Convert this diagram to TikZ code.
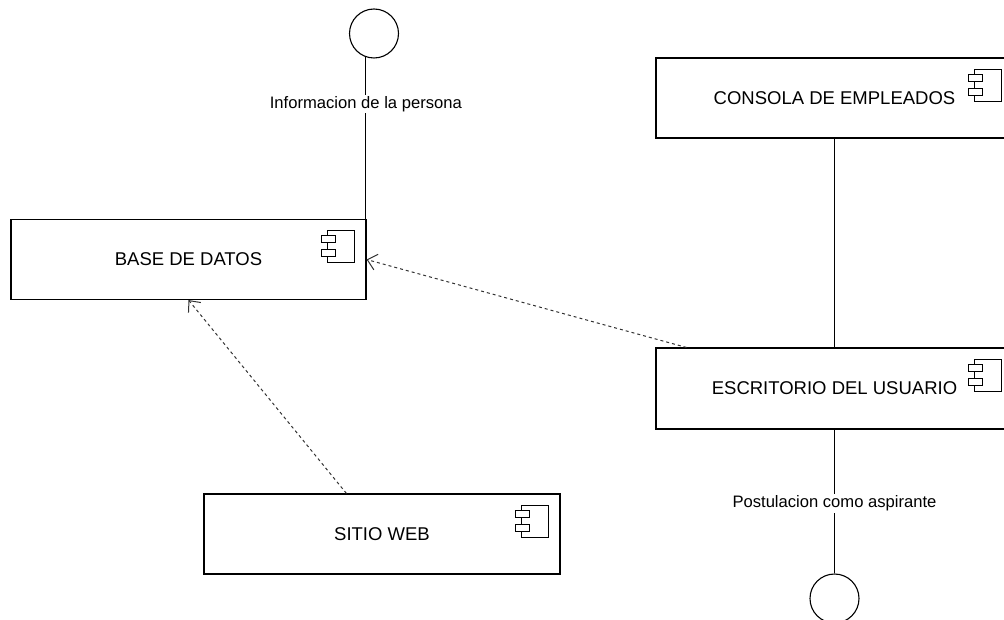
\documentclass[tikz,border=0pt]{standalone}
\usepackage{fontspec}
\setmainfont{Liberation Sans}
\usetikzlibrary{arrows.meta}

\newcommand{\compicon}[1]{%
\begin{scope}[shift={(#1.north east)}, line width=1pt]
\draw (-39,12) rectangle (-12,44);
\draw[fill=white] (-45,17) rectangle (-31,24);
\draw[fill=white] (-45,31) rectangle (-31,38);
\end{scope}}

\begin{document}
\begin{tikzpicture}[x=1pt, y=-1pt,
  comp/.style={draw, line width=1.1pt, minimum width=355pt, minimum height=80pt, inner sep=0, font=\fontsize{18.5}{22}\selectfont},
  iface/.style={draw, circle, line width=1.1pt, minimum size=49pt, inner sep=0},
  lbl/.style={fill=white, inner sep=1.5pt, font=\fontsize{16.6}{20}\selectfont},
  dep/.style={line width=1pt, black!80, dash pattern=on 3pt off 3pt, -{Straight Barb[length=9pt, width=16pt]}}]
\useasboundingbox (0,0) rectangle (1004,620);
\node[comp] (db) at (188.5,259.5) {BASE DE DATOS};
\node[comp, minimum width=356pt] (web) at (382,534) {SITIO WEB};
\node[comp, minimum width=357pt] (cons) at (834.5,98) {CONSOLA DE EMPLEADOS};
\node[comp, minimum width=357pt, minimum height=81pt] (desk) at (834.5,388.5) {ESCRITORIO DEL USUARIO};
\node[iface] (info) at (374,33.5) {};
\node[iface] (post) at (834.5,598.5) {};
\compicon{db}
\compicon{web}
\compicon{cons}
\compicon{desk}
% Interfaces
\draw[line width=1.1pt] (info.-109) -- (info.-109 |- db.north) node[lbl, pos=0.29] {Informacion de la persona};
\draw[line width=1.1pt] (cons) -- (desk);
\draw[line width=1.1pt] (desk) -- (post) node[lbl, pos=0.515] {Postulacion como aspirante};
% Dependencies
\draw[dep] ([xshift=143pt]web.north west) -- (db.south);
\draw[dep] ([xshift=31pt]desk.north west) -- (db.east);
\end{tikzpicture}
\end{document}
